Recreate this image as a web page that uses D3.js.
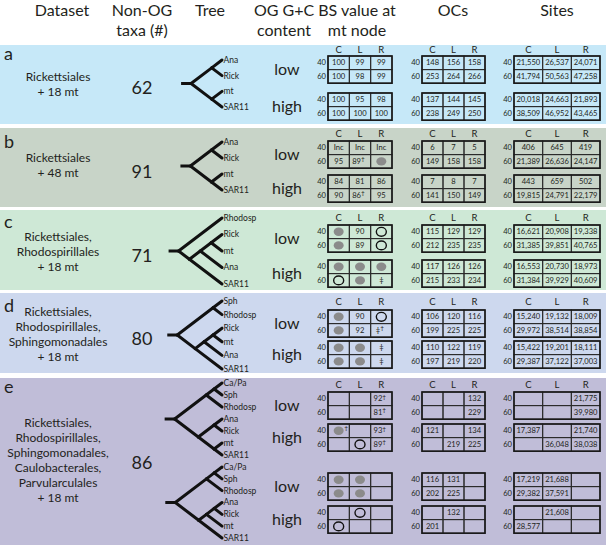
<!DOCTYPE html>
<html>
<head>
<meta charset="utf-8">
<script src="https://cdn.jsdelivr.net/npm/d3@7"></script>
<style>
  body { margin: 0; background: #fff; }
  svg { display: block; font-family: Lato, "Open Sans", sans-serif; }
</style>
</head>
<body>
<svg id="chart" width="606" height="545"></svg>
<script>
// ---------- data ----------
var panelIds = ['a', 'b', 'c', 'd', 'e'];
var datasetLines = [
  ['Rickettsiales', '+ 18 mt'],
  ['Rickettsiales', '+ 48 mt'],
  ['Rickettsiales,', 'Rhodospirillales', '+ 18 mt'],
  ['Rickettsiales,', 'Rhodospirillales,', 'Sphingomonadales', '+ 18 mt'],
  ['Rickettsiales,', 'Rhodospirillales,', 'Sphingomonadales,', 'Caulobacterales,', 'Parvularculales', '+ 18 mt']
];
var nonOgTaxa = [62, 91, 71, 80, 86];
var columns = ['C', 'L', 'R'];
var gcLevels = ['low', 'high'];
var rowLabels = ['40', '60'];

// trees (nested lists), one per pair of G+C blocks
var trees = [
  [[['Ana', 'Rick'], ['mt', 'SAR11']]],
  [[['Ana', 'Rick'], ['mt', 'SAR11']]],
  [['Rhodosp', [[['Rick', 'mt'], 'Ana'], 'SAR11']]],
  [[['Sph', 'Rhodosp'], [[['Rick', 'mt'], 'Ana'], 'SAR11']]],
  [[[['Ca/Pa', 'Sph'], 'Rhodosp'], [['Ana', 'Rick'], ['mt', 'SAR11']]],
   [[['Ca/Pa', 'Sph'], 'Rhodosp'], [[['Ana', 'Rick'], 'mt'], 'SAR11']]]
];

// cell tokens: number / text, '●' grey dot, '○' open circle, '‡', trailing '†'
var bsValues = [
  [[['100', '99', '99'], ['100', '98', '99']], [['100', '95', '98'], ['100', '100', '100']]],
  [[['Inc', 'Inc', 'Inc'], ['95', '89†', '●']], [['84', '81', '86'], ['90', '86†', '95']]],
  [[['●', '90', '○'], ['●', '89', '○']], [['●', '●', '●'], ['○', '●', '‡']]],
  [[['●', '90', '○'], ['●', '92', '‡†']], [['●', '●', '‡'], ['●', '●', '‡']]],
  [[['', '', '92†'], ['', '', '81†']], [['●†', '', '93†'], ['', '○', '89†']],
   [['●', '●', ''], ['●', '●', '']], [['', '○', ''], ['○', '', '']]]
];
var ocValues = [
  [[['148', '156', '158'], ['253', '264', '266']], [['137', '144', '145'], ['238', '249', '250']]],
  [[['6', '7', '5'], ['149', '158', '158']], [['7', '8', '7'], ['141', '150', '149']]],
  [[['115', '129', '129'], ['212', '235', '235']], [['117', '126', '126'], ['215', '233', '234']]],
  [[['106', '120', '116'], ['199', '225', '225']], [['110', '122', '119'], ['197', '219', '220']]],
  [[['', '', '132'], ['', '', '229']], [['121', '', '134'], ['', '219', '225']],
   [['116', '131', ''], ['202', '225', '']], [['', '132', ''], ['201', '', '']]]
];
var siteValues = [
  [[['21,550', '26,537', '24,071'], ['41,794', '50,563', '47,258']], [['20,018', '24,663', '21,893'], ['38,509', '46,952', '43,465']]],
  [[['406', '645', '419'], ['21,389', '26,636', '24,147']], [['443', '659', '502'], ['19,815', '24,791', '22,179']]],
  [[['16,621', '20,908', '19,338'], ['31,385', '39,851', '40,765']], [['16,553', '20,730', '18,973'], ['31,384', '39,929', '40,609']]],
  [[['15,240', '19,132', '18,009'], ['29,972', '38,514', '38,854']], [['15,422', '19,201', '18,111'], ['29,387', '37,122', '37,003']]],
  [[['', '', '21,775'], ['', '', '39,980']], [['17,387', '', '21,740'], ['', '36,048', '38,038']],
   [['17,219', '21,688', ''], ['29,382', '37,591', '']], [['', '21,608', ''], ['28,577', '', '']]]
];

// ---------- layout ----------
var bandColors = ['#c6e8f8', '#c8d4c8', '#cee8d6', '#cdd8ee', '#c0bdd8'];
var bands = [[45, 124], [128, 207], [210, 290], [293, 373], [378, 545]];
var headerY = [50, 134, 218, 302, 385];
var blockTops = [[56, 93], [141, 175], [225, 260], [310, 341], [392, 424, 473, 506]];
var leafRanges = [[[60, 107]], [[142, 190]], [[218, 284]], [[301, 369]], [[383, 455], [467, 538]]];
var letterY = [60, 148, 228, 312, 393];
var textTop = [81, 162, 241, 316, 427];
var rowH = 13.6;
var tipX = 222, slope = 0.76;
var tables = [
  {key: 'bs', x0: 328, x1: 392, data: bsValues},
  {key: 'oc', x0: 422, x1: 485, data: ocValues},
  {key: 'site', x0: 514, x1: 600, data: siteValues}
];

var svg = d3.select('#chart');

// column headers
var headers = [
  {x: 62, lines: ['Dataset']},
  {x: 142, lines: ['Non-OG', 'taxa (#)']},
  {x: 210, lines: ['Tree']},
  {x: 284, lines: ['OG G+C', 'content']},
  {x: 357, lines: ['BS value at', 'mt node']},
  {x: 453, lines: ['OCs']},
  {x: 557, lines: ['Sites']}
];
headers.forEach(function(h) {
  h.lines.forEach(function(l, i) {
    svg.append('text').attr('x', h.x).attr('y', 16 + i * 20)
      .attr('text-anchor', 'middle').attr('font-size', 16).attr('fill', '#231f20').text(l);
  });
});

var drawCell = function(g, token, cx, cy) {
  var dagger = token.slice(-1) === '†';
  var base = dagger ? token.slice(0, -1) : token;
  if (base === '●') {
    g.append('ellipse').attr('cx', cx).attr('cy', cy).attr('rx', 5).attr('ry', 4.2).attr('fill', '#8b8b8b');
    if (dagger) g.append('text').attr('x', cx + 5.5).attr('y', cy - 1).attr('font-size', 6.5).attr('fill', '#231f20').text('†');
  } else if (base === '○') {
    g.append('ellipse').attr('cx', cx).attr('cy', cy).attr('rx', 5).attr('ry', 4.4)
      .attr('fill', 'none').attr('stroke', '#111').attr('stroke-width', 1.4);
  } else if (base !== '') {
    var t = g.append('text').attr('x', dagger ? cx - 1.5 : cx).attr('y', cy).attr('dy', '0.35em')
      .attr('text-anchor', 'middle').attr('font-size', 7.6).attr('fill', '#231f20').text(base);
    if (dagger) t.append('tspan').attr('font-size', 6.5).attr('dy', '-0.45em').text('†');
  }
};

var drawTree = function(g, nested, range) {
  var root = d3.hierarchy(nested, function(d) { return Array.isArray(d) ? d : null; });
  var leafY = d3.scalePoint().domain(root.leaves().map(function(d) { return d.data; })).range(range);
  root.eachAfter(function(n) {
    if (!n.children) { n.y0 = n.y1 = leafY(n.data); }
    else {
      n.y0 = d3.min(n.children, function(c) { return c.y0; });
      n.y1 = d3.max(n.children, function(c) { return c.y1; });
    }
    n.py = (n.y0 + n.y1) / 2;
    n.px = tipX - (n.y1 - n.y0) / 2 / slope;
  });
  g.append('line').attr('x1', root.px - 10).attr('x2', root.px).attr('y1', root.py).attr('y2', root.py)
    .attr('stroke', '#111').attr('stroke-width', 3);
  g.selectAll(null).data(root.links()).enter().append('line')
    .attr('x1', function(d) { return d.source.px; }).attr('y1', function(d) { return d.source.py; })
    .attr('x2', function(d) { return d.target.px; }).attr('y2', function(d) { return d.target.py; })
    .attr('stroke', '#111').attr('stroke-width', 3).attr('stroke-linecap', 'round');
  g.selectAll(null).data(root.leaves()).enter().append('text')
    .attr('x', tipX + 1.5).attr('y', function(d) { return d.py; }).attr('dy', '0.35em')
    .attr('font-size', 8.5).attr('fill', '#231f20').text(function(d) { return d.data; });
};

panelIds.forEach(function(id, p) {
  var g = svg.append('g').attr('class', 'panel ' + id);
  g.append('rect').attr('x', 0).attr('y', bands[p][0]).attr('width', 606)
    .attr('height', bands[p][1] - bands[p][0]).attr('fill', bandColors[p]);

  g.append('text').attr('x', 4).attr('y', letterY[p]).attr('font-size', 18).attr('fill', '#231f20').text(id);

  datasetLines[p].forEach(function(l, i) {
    g.append('text').attr('x', 58).attr('y', textTop[p] + i * 15).attr('text-anchor', 'middle')
      .attr('font-size', 12).attr('fill', '#231f20').text(l);
  });

  var tops = blockTops[p];
  var mid = (tops[0] + tops[tops.length - 1] + 2 * rowH) / 2;
  g.append('text').attr('x', 142).attr('y', mid).attr('dy', '0.35em').attr('text-anchor', 'middle')
    .attr('font-size', 18).attr('fill', '#231f20').text(nonOgTaxa[p]);

  trees[p].forEach(function(t, i) { drawTree(g, t, leafRanges[p][i]); });

  tops.forEach(function(top, b) {
    g.append('text').attr('x', 287).attr('y', top + rowH).attr('dy', '0.35em').attr('text-anchor', 'middle')
      .attr('font-size', 16).attr('fill', '#231f20').text(gcLevels[b % 2]);
  });

  tables.forEach(function(tb) {
    var x = d3.scaleBand().domain(columns).range([tb.x0, tb.x1]);
    columns.forEach(function(c) {
      g.append('text').attr('x', x(c) + x.bandwidth() / 2).attr('y', headerY[p]).attr('dy', '0.35em')
        .attr('text-anchor', 'middle').attr('font-size', 9.5).attr('fill', '#231f20').text(c);
    });
    tops.forEach(function(top, b) {
      var y = d3.scaleBand().domain(rowLabels).range([top, top + 2 * rowH]);
      var block = tb.data[p][b];
      rowLabels.forEach(function(r, ri) {
        g.append('text').attr('x', tb.x0 - 2).attr('y', y(r) + rowH / 2).attr('dy', '0.35em')
          .attr('text-anchor', 'end').attr('font-size', 7.6).attr('fill', '#231f20').text(r);
        columns.forEach(function(c, ci) {
          g.append('rect').attr('x', x(c)).attr('y', y(r)).attr('width', x.bandwidth()).attr('height', rowH)
            .attr('fill', 'none').attr('stroke', '#2b2b2b').attr('stroke-width', 1);
          drawCell(g, block[ri][ci], x(c) + x.bandwidth() / 2, y(r) + rowH / 2);
        });
      });
      g.append('rect').attr('x', tb.x0).attr('y', top).attr('width', tb.x1 - tb.x0).attr('height', 2 * rowH)
        .attr('fill', 'none').attr('stroke', '#1a1a1a').attr('stroke-width', 1.6);
    });
  });
});
</script>
</body>
</html>
